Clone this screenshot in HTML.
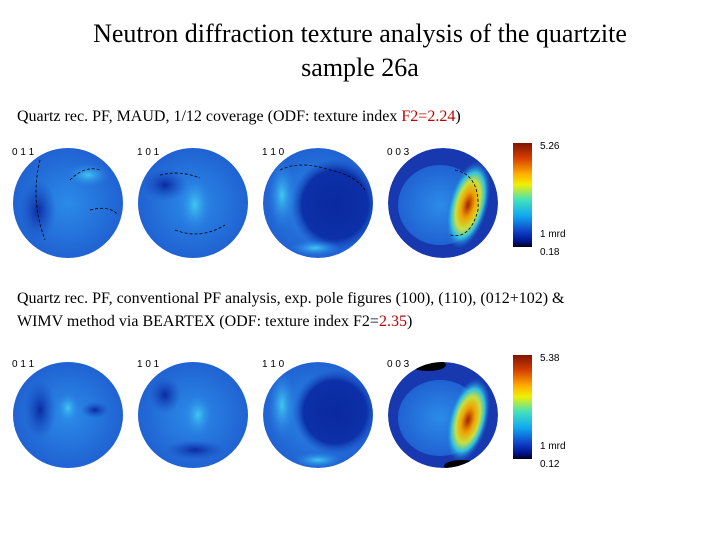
<!DOCTYPE html>
<html><head><meta charset="utf-8"><style>
body{margin:0;background:#fff;width:720px;height:540px;overflow:hidden}
svg text{font-family:"Liberation Serif",serif}
.lab{font-family:"Liberation Sans",sans-serif;font-size:10px;fill:#000}
</style></head><body>
<svg width="720" height="540" viewBox="0 0 720 540">
<defs>
<linearGradient id="jet" x1="0" y1="0" x2="0" y2="1">
<stop offset="0" stop-color="#7f1400"/><stop offset="0.15" stop-color="#d84000"/><stop offset="0.3" stop-color="#ffb000"/><stop offset="0.4" stop-color="#f0f000"/><stop offset="0.55" stop-color="#40e0c0"/><stop offset="0.7" stop-color="#10a8f0"/><stop offset="0.85" stop-color="#1040c8"/><stop offset="0.95" stop-color="#00108a"/><stop offset="1" stop-color="#000010"/>
</linearGradient>
<radialGradient id="bg1" cx="0.5" cy="0.5" r="0.55"><stop offset="0" stop-color="#2b8be8"/><stop offset="1" stop-color="#1f5ed0"/></radialGradient>
<radialGradient id="hot" cx="0.5" cy="0.5" r="0.5"><stop offset="0" stop-color="#a02000"/><stop offset="0.3" stop-color="#f0a000"/><stop offset="0.55" stop-color="#c8e040"/><stop offset="0.75" stop-color="#30c0e0"/><stop offset="1" stop-color="#1f5ed0" stop-opacity="0"/></radialGradient>
<radialGradient id="cy" cx="0.5" cy="0.5" r="0.5"><stop offset="0" stop-color="#40c8f0"/><stop offset="1" stop-color="#2a80e8" stop-opacity="0"/></radialGradient>
<radialGradient id="dk" cx="0.5" cy="0.5" r="0.5"><stop offset="0" stop-color="#0a2aa0"/><stop offset="1" stop-color="#1848c0" stop-opacity="0"/></radialGradient>
<radialGradient id="dk2" cx="0.5" cy="0.5" r="0.5"><stop offset="0" stop-color="#0a2aa0"/><stop offset="0.75" stop-color="#0c30a8"/><stop offset="1" stop-color="#1848c0" stop-opacity="0"/></radialGradient>
<clipPath id="c3t"><ellipse cx="318" cy="203" rx="55" ry="55"/></clipPath>
<clipPath id="c3b"><ellipse cx="318" cy="415" rx="55" ry="53"/></clipPath>
<clipPath id="c4t"><ellipse cx="443" cy="203" rx="55" ry="55"/></clipPath>
<clipPath id="c4b"><ellipse cx="443" cy="415" rx="55" ry="53"/></clipPath>
</defs>
<text x="360" y="42" text-anchor="middle" font-size="26">Neutron diffraction texture analysis of the quartzite</text>
<text x="360" y="76" text-anchor="middle" font-size="26">sample 26a</text>
<text x="17" y="121" font-size="16">Quartz rec. PF, MAUD, 1/12 coverage (ODF: texture index <tspan fill="#c00000">F2=2.24</tspan>)</text>
<text x="17" y="303" font-size="16">Quartz rec. PF, conventional PF analysis, exp. pole figures (100), (110), (012+102) &amp;</text>
<text x="17" y="326" font-size="16">WIMV method via BEARTEX (ODF: texture index F2=<tspan fill="#c00000">2.35</tspan>)</text>

<g>
 <g>
  <ellipse cx="68" cy="203" rx="55" ry="55" fill="url(#bg1)"/>
  <ellipse cx="88" cy="175" rx="22" ry="12" fill="url(#cy)"/>
  <ellipse cx="38" cy="210" rx="18" ry="30" fill="url(#dk)"/>
  <path d="M40 160 Q30 200 45 240 M70 180 Q85 165 100 170 M90 210 Q110 205 118 215" stroke="#000" stroke-dasharray="3 2" fill="none" stroke-width="0.8"/>
  <text class="lab" x="12" y="155">0 1 1</text></g>
 <g>
  <ellipse cx="193" cy="203" rx="55" ry="55" fill="url(#bg1)"/>
  <ellipse cx="195" cy="205" rx="16" ry="28" fill="url(#cy)"/>
  <ellipse cx="165" cy="185" rx="22" ry="16" fill="url(#dk)"/>
  <path d="M160 175 Q180 170 200 178 M175 230 Q200 240 225 225" stroke="#000" stroke-dasharray="3 2" fill="none" stroke-width="0.8"/>
  <text class="lab" x="137" y="155">1 0 1</text></g>
 <g clip-path="url(#c3t)">
  <ellipse cx="318" cy="203" rx="55" ry="55" fill="url(#bg1)"/>
  <ellipse cx="335" cy="205" rx="44" ry="46" fill="url(#dk2)"/>
  <ellipse cx="282" cy="195" rx="14" ry="35" fill="url(#cy)"/>
  <ellipse cx="315" cy="248" rx="25" ry="8" fill="url(#cy)"/>
  <path d="M280 170 Q300 160 330 170 Q355 175 365 190" stroke="#000" stroke-dasharray="3 2" fill="none" stroke-width="0.8"/>
 </g>
 <text class="lab" x="262" y="155">1 1 0</text>
 <g clip-path="url(#c4t)">
  <ellipse cx="443" cy="203" rx="55" ry="55" fill="#1838b0"/>
  <ellipse cx="440" cy="205" rx="42" ry="40" fill="url(#bg1)"/>
  <ellipse cx="468" cy="205" rx="20" ry="45" fill="url(#hot)" transform="rotate(15 468 205)"/>
  <path d="M455 170 Q480 175 478 210 Q470 240 450 235" stroke="#000" stroke-dasharray="3 2" fill="none" stroke-width="0.8"/>
 </g>
 <text class="lab" x="387" y="155">0 0 3</text>
 <g>
  <rect x="513" y="143" width="19" height="104" fill="url(#jet)"/>
  <text class="lab" x="540" y="149">5.26</text>
  <text class="lab" x="540" y="237">1 mrd</text>
  <text class="lab" x="540" y="255">0.18</text></g>
</g>

<g>
 <g>
  <ellipse cx="68" cy="415" rx="55" ry="53" fill="url(#bg1)"/>
  <ellipse cx="68" cy="408" rx="12" ry="16" fill="url(#cy)"/>
  <ellipse cx="40" cy="410" rx="16" ry="30" fill="url(#dk)"/>
  <ellipse cx="95" cy="410" rx="14" ry="8" fill="url(#dk)"/>
  <text class="lab" x="12" y="367">0 1 1</text></g>
 <g>
  <ellipse cx="193" cy="415" rx="55" ry="53" fill="url(#bg1)"/>
  <ellipse cx="198" cy="415" rx="14" ry="22" fill="url(#cy)"/>
  <ellipse cx="165" cy="395" rx="16" ry="18" fill="url(#dk)"/>
  <ellipse cx="195" cy="450" rx="30" ry="10" fill="url(#dk)"/>
  <text class="lab" x="137" y="367">1 0 1</text></g>
 <g clip-path="url(#c3b)">
  <ellipse cx="318" cy="415" rx="55" ry="53" fill="url(#bg1)"/>
  <ellipse cx="335" cy="412" rx="42" ry="42" fill="url(#dk2)"/>
  <ellipse cx="282" cy="405" rx="14" ry="35" fill="url(#cy)"/>
  <ellipse cx="318" cy="460" rx="25" ry="8" fill="url(#cy)"/>
 </g>
 <text class="lab" x="262" y="367">1 1 0</text>
 <g clip-path="url(#c4b)">
  <ellipse cx="443" cy="415" rx="55" ry="53" fill="#1838b0"/>
  <ellipse cx="440" cy="418" rx="42" ry="38" fill="url(#bg1)"/>
  <ellipse cx="468" cy="420" rx="20" ry="43" fill="url(#hot)" transform="rotate(15 468 420)"/>
  <ellipse cx="428" cy="365" rx="18" ry="6" fill="#000"/>
  <ellipse cx="462" cy="466" rx="18" ry="6" fill="#000"/>
 </g>
 <text class="lab" x="387" y="367">0 0 3</text>
 <g>
  <rect x="513" y="355" width="19" height="104" fill="url(#jet)"/>
  <text class="lab" x="540" y="361">5.38</text>
  <text class="lab" x="540" y="449">1 mrd</text>
  <text class="lab" x="540" y="467">0.12</text></g>
</g>
</svg>
</body></html>
